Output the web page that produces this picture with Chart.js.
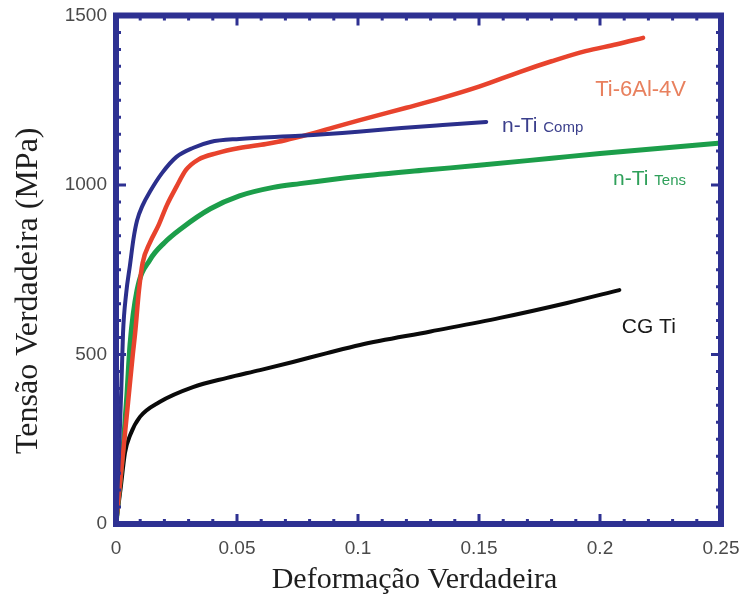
<!DOCTYPE html>
<html>
<head>
<meta charset="utf-8">
<script src="https://cdn.jsdelivr.net/npm/chart.js@4.4.1/dist/chart.umd.min.js"></script>
<style>
  html, body { margin: 0; padding: 0; background: #ffffff; }
  #wrap { width: 742px; height: 608px; position: relative; }
</style>
</head>
<body>
<div id="wrap"><canvas id="c" width="742" height="608"></canvas></div>
<script>
// ---- data ----
const seriesNames = ["n-Ti Comp", "Ti-6Al-4V", "n-Ti Tens", "CG Ti"];

const compStrain = [0, 0.0012, 0.0022, 0.0029, 0.0042, 0.0058, 0.0072, 0.0087, 0.011, 0.014, 0.019, 0.025, 0.032, 0.039, 0.051, 0.076, 0.1, 0.118, 0.135, 0.153];
const compStress = [0, 200, 400, 563, 680, 765, 840, 895, 940, 980, 1035, 1083, 1110, 1127, 1136, 1145, 1157, 1168, 1177, 1186];

const alloyStrain = [0, 0.0025, 0.005, 0.007, 0.0079, 0.0095, 0.011, 0.014, 0.0175, 0.021, 0.025, 0.029, 0.034, 0.0417, 0.051, 0.062, 0.07, 0.08, 0.09, 0.1, 0.12, 0.132, 0.15, 0.167, 0.18, 0.194, 0.207, 0.2178];
const alloyStress = [0, 180, 360, 504, 563, 690, 770, 830, 880, 940, 995, 1045, 1075, 1094, 1109, 1121, 1132, 1150, 1170, 1190, 1228, 1251, 1290, 1334, 1365, 1395, 1415, 1434];

const tensStrain = [0, 0.003, 0.0045, 0.0058, 0.0087, 0.014, 0.02, 0.027, 0.039, 0.051, 0.065, 0.076, 0.1, 0.128, 0.15, 0.18, 0.2, 0.25];
const tensStress = [0, 230, 380, 530, 690, 779, 830, 872, 930, 968, 993, 1004, 1025, 1044, 1058, 1079, 1093, 1124];

const cgStrain = [0, 0.002, 0.0037, 0.006, 0.0099, 0.018, 0.0318, 0.0459, 0.0595, 0.0731, 0.0872, 0.1008, 0.13, 0.1587, 0.1864, 0.208];
const cgStress = [0, 110, 210, 265, 316, 360, 404, 431, 454, 478, 504, 528, 568, 608, 652, 690];

const xTicks = [0, 0.05, 0.1, 0.15, 0.2, 0.25];
const yTicks = [0, 500, 1000, 1500];
const xMinorStep = 0.01;
const yMinorStep = 50;

const xTitle = "Deformação Verdadeira";
const yTitle = "Tensão Verdadeira (MPa)";

// curve labels: main text, small trailing text, anchor (strain, stress)
const labelMain = ["n-Ti", "Ti-6Al-4V", "n-Ti", "CG Ti"];
const labelSmall = ["Comp", "", "Tens", ""];
const labelX = [0.1595, 0.198, 0.2054, 0.209];
const labelY = [1156, 1264, 1000, 563];

// ---- styles ----
const lineColors = ["#2b2f8c", "#e8432d", "#1c9e4a", "#0a0a0a"];
const textColors = ["#3b3f8c", "#e8805e", "#2fa05a", "#1a1a1a"];
const lineWidths = [4, 4.5, 5, 4];
const frameColor = "#2e3192";

function pts(xs, ys) { return xs.map((x, i) => ({ x: x, y: ys[i] })); }
const seriesData = [pts(compStrain, compStress), pts(alloyStrain, alloyStress), pts(tensStrain, tensStress), pts(cgStrain, cgStress)];

const framePlugin = {
  id: 'frame',
  afterDatasetsDraw(chart) {
    const ctx = chart.ctx;
    const a = chart.chartArea;
    const xs = chart.scales.x, ys = chart.scales.y;
    ctx.save();
    ctx.strokeStyle = frameColor;
    ctx.lineCap = 'butt';
    const nx = Math.round((xs.max - xs.min) / xMinorStep);
    for (let i = 0; i <= nx; i++) {
      const v = xs.min + i * xMinorStep;
      const px = xs.getPixelForValue(v);
      const major = xTicks.some(t => Math.abs(t - v) < 1e-9);
      const len = major ? 10 : 5;
      ctx.lineWidth = 3;
      ctx.beginPath();
      ctx.moveTo(px, a.bottom); ctx.lineTo(px, a.bottom - len);
      ctx.moveTo(px, a.top); ctx.lineTo(px, a.top + len);
      ctx.stroke();
    }
    const ny = Math.round((ys.max - ys.min) / yMinorStep);
    for (let i = 0; i <= ny; i++) {
      const v = ys.min + i * yMinorStep;
      const py = ys.getPixelForValue(v);
      const major = yTicks.some(t => Math.abs(t - v) < 1e-9);
      const len = major ? 10 : 5;
      ctx.lineWidth = 3;
      ctx.beginPath();
      ctx.moveTo(a.left, py); ctx.lineTo(a.left + len, py);
      ctx.moveTo(a.right, py); ctx.lineTo(a.right - len, py);
      ctx.stroke();
    }
    ctx.lineWidth = 6;
    ctx.strokeRect(a.left, a.top, a.right - a.left, a.bottom - a.top);

    // curve labels
    for (let i = 0; i < labelMain.length; i++) {
      const px = xs.getPixelForValue(labelX[i]);
      const py = ys.getPixelForValue(labelY[i]);
      ctx.fillStyle = textColors[i];
      ctx.textBaseline = 'alphabetic';
      ctx.textAlign = 'left';
      ctx.font = (labelMain[i] === "Ti-6Al-4V" ? "22px" : "21px") + " 'Liberation Sans', Arial, sans-serif";
      ctx.fillText(labelMain[i], px, py);
      if (labelSmall[i]) {
        const w = ctx.measureText(labelMain[i] + " ").width;
        ctx.font = "15px 'Liberation Sans', Arial, sans-serif";
        ctx.fillText(labelSmall[i], px + w, py);
      }
    }

    // axis titles
    ctx.fillStyle = '#1e1e1e';
    ctx.textAlign = 'center';
    ctx.textBaseline = 'middle';
    ctx.font = "30px 'Liberation Serif', 'Times New Roman', serif";
    ctx.fillText(xTitle, (a.left + a.right) / 2 - 4, 580);
    ctx.save();
    ctx.translate(29, (a.top + a.bottom) / 2 + 21);
    ctx.rotate(-Math.PI / 2);
    ctx.font = "32px 'Liberation Serif', 'Times New Roman', serif";
    ctx.fillText(yTitle, 0, 0);
    ctx.restore();
    ctx.restore();
  }
};

new Chart(document.getElementById('c'), {
  type: 'scatter',
  data: {
    datasets: seriesData.map((d, i) => ({
      label: seriesNames[i],
      data: d,
      showLine: true,
      borderColor: lineColors[i],
      backgroundColor: lineColors[i],
      borderWidth: lineWidths[i],
      pointRadius: 0,
      cubicInterpolationMode: 'monotone',
      borderCapStyle: 'round',
      borderJoinStyle: 'round',
      clip: false
    }))
  },
  options: {
    responsive: false,
    animation: false,
    layout: { padding: { top: 15.5, right: 21, left: 0, bottom: 0 } },
    plugins: { legend: { display: false }, tooltip: { enabled: false } },
    scales: {
      x: {
        type: 'linear', min: 0, max: 0.25,
        afterBuildTicks: s => { s.ticks = xTicks.map(v => ({ value: v })); },
        afterFit: s => { s.height = 84; s.paddingLeft = 0; s.paddingRight = 0; },
        grid: { display: false, drawTicks: false },
        border: { display: false },
        ticks: {
          padding: 13,
          color: '#4a4a4a',
          font: { family: "'Liberation Sans', Arial, sans-serif", size: 19 },
          maxRotation: 0,
          callback: v => String(+Number(v).toFixed(2))
        },
        title: { display: false }
      },
      y: {
        type: 'linear', min: 0, max: 1500,
        afterBuildTicks: s => { s.ticks = yTicks.map(v => ({ value: v })); },
        afterFit: s => { s.width = 116; s.paddingTop = 0; s.paddingBottom = 0; },
        grid: { display: false, drawTicks: false },
        border: { display: false },
        ticks: {
          padding: 9,
          color: '#4a4a4a',
          font: { family: "'Liberation Sans', Arial, sans-serif", size: 19 },
          callback: v => String(v)
        },
        title: { display: false }
      }
    }
  },
  plugins: [framePlugin]
});
</script>
</body>
</html>
